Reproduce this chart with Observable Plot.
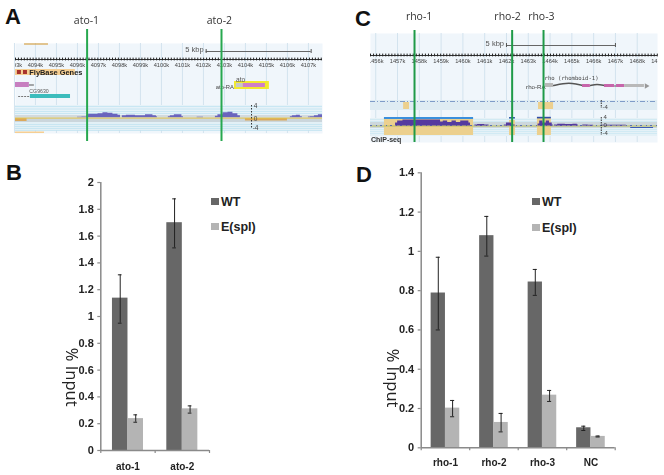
<!DOCTYPE html>
<html><head><meta charset="utf-8">
<script src="https://cdn.jsdelivr.net/npm/d3@7"></script>
<script src="https://cdn.jsdelivr.net/npm/@observablehq/plot@0.6"></script>
<style>
html,body{margin:0;padding:0;background:#fff}
#page{position:relative;width:664px;height:475px;overflow:hidden;font-family:"Liberation Sans",Arial,sans-serif}
.track{filter:blur(.45px)}
.bars{filter:blur(.3px)}
.letter{position:absolute;font-weight:700;font-size:22px;line-height:22px;color:#111}
.leg{position:absolute;font-weight:700;font-size:12.5px;line-height:14px;color:#222;white-space:nowrap}
.sw{position:absolute;width:8px;height:7px}
</style></head><body><div id="page"></div>
<script>
// ---- bar chart data
const groupsB=["ato-1","ato-2"];
const wtB=[1.137,1.70], wtBlo=[0.95,1.512], wtBhi=[1.311,1.878];
const spB=[0.238,0.311], spBlo=[0.211,0.279], spBhi=[0.266,0.333];
const ticksB=[0,0.2,0.4,0.6,0.8,1,1.2,1.4,1.6,1.8,2];
const groupsD=["rho-1","rho-2","rho-3","NC"];
const wtD=[0.788,1.08,0.844,0.102], wtDlo=[0.60,0.976,0.776,0.088], wtDhi=[0.97,1.178,0.908,0.11];
const spD=[0.202,0.129,0.268,0.058], spDlo=[0.158,0.081,0.236,0.055], spDhi=[0.241,0.175,0.292,0.06];
const ticksD=[0,0.2,0.4,0.6,0.8,1,1.2,1.4];
const seriesNames=["WT","E(spl)"], seriesColors=["#676767","#b4b4b4"];
// ---- genome browser data (kb positions, track rows)
const sigA=[
 [[4096.0,.5],[4096.43,.8],[4096.44,2],[4096.62,3.5],[4096.86,3.5],[4097.1,4],[4097.33,5],[4097.57,4.5],[4097.81,3.5],[4098.05,2.5]],
 [[4098.14,2],[4098.52,2.5],[4099.0,2],[4099.48,3],[4099.71,2],[4099.81,1]],
 [[4100.33,1],[4100.52,2],[4100.71,3],[4100.9,3],[4101.05,1]],
 [[4101.7,.6],[4102.0,.6]],
 [[4102.57,1.5],[4102.81,3],[4103.05,5],[4103.29,5.5],[4103.52,4],[4103.76,2]],
 [[4106.14,1],[4106.33,2],[4106.52,2.5],[4106.71,1]],
 [[4107.0,.7],[4107.19,1],[4107.38,2],[4107.57,3],[4107.67,3]]
];
const sigC=[
 [[1456.91,3],[1457.1,5],[1457.4,6],[1458.5,6],[1458.95,6],[1459.0,4],[1459.2,5],[1459.4,3.5],[1459.6,5],[1459.8,3.5],[1460.0,5],[1460.2,5],[1460.35,3]],
 [[1460.55,1],[1460.8,1.3],[1461.2,1]],
 [[1461.9,1],[1462.1,3],[1462.4,1]],
 [[1463.45,2],[1463.6,5],[1463.75,3],[1463.9,5],[1464.05,3],[1464.15,1]],
 [[1464.2,1],[1464.5,1.6],[1464.9,1.4],[1465.2,1.6],[1465.3,.8]],
 [[1465.5,.8],[1466,.6]],[[1466.4,.7],[1467.5,.7]]
];
const geneBoxesA=[
 {a:4093.05,b:4093.71,y1:82,y2:87,c:"#c77fc0"},{a:4093.76,b:4095.67,y1:94,y2:98,c:"#3cbcbc"},
 {a:4103.48,b:4105.14,y1:81,y2:89,c:"#f2ea2e"},{a:4103.57,b:4103.9,y1:83,y2:87,c:"#c8c8c8"},{a:4103.9,b:4104.95,y1:83,y2:87,c:"#cf7fc8"}
];
const geneBoxesC=[
 {a:1463.79,b:1464.16,y1:83,y2:87,c:"#b9b9b9"},{a:1465.49,b:1465.85,y1:84,y2:87,c:"#c765ab"},
 {a:1466.5,b:1466.96,y1:84,y2:87,c:"#c765ab"},{a:1467.05,b:1467.42,y1:84,y2:87,c:"#c765ab"},{a:1467.42,b:1468.33,y1:84,y2:87,c:"#b9b9b9"}
];
const bandsA=[{y1:105,y2:115,c:"#e6f2f8"},{y1:115,y2:118,c:"#d3dadd"},{y1:118,y2:122,c:"#cbd6dc"},{y1:122,y2:130,c:"#e2f0f6"}];
const bandsC=[{y1:100,y2:110,c:"#dfecf3"},{y1:118,y2:122,c:"#e6f1f6"},{y1:122,y2:128,c:"#ccd7dc"},{y1:128,y2:136,c:"#e4f1f7"}];
const hatchA=[106,108.5,111,113,124,126,128,130];
const hatchC=[119,121,129,131,133];
const oranges=[
 {a:1457.28,b:1457.55,y1:102,y2:109},{a:1463.47,b:1464.16,y1:102,y2:109},
 {a:1456.4,b:1460.49,y1:118,y2:135},{a:1462.14,b:1462.41,y1:120,y2:135},{a:1463.42,b:1464.06,y1:118,y2:135}
];
const blues=[{a:1456.4,b:1460.49,y1:117,y2:119,c:"#3a8fdc"},{a:1462.14,b:1462.41,y1:117,y2:118.6,c:"#2f5ea8"},{a:1463.42,b:1464.06,y1:116.8,y2:118.4,c:"#2f4ea8"}];
const axisPosA=[{y:105,t:"4"},{y:118,t:"0"},{y:127,t:"-4"}];
const axisPosC=[{y:117,t:"4"},{y:125,t:"0"},{y:133,t:"-4"},{y:106.5,t:"-4"}];
const page=document.getElementById("page");
const F='"Liberation Sans",Arial,sans-serif';

function segs(list){return list.flatMap((s,i)=>s.map(([kb,h])=>({kb,h,i})));}
function common(domain,first,last,rulerY,labelY,barStart,scaleY){
  const kbs=d3.range(first,last+1);
  return {kbs,marks:[
    Plot.frame({fill:"#f0f6fb",stroke:null}),
    Plot.ruleX(kbs,{stroke:"#d3e3ee",strokeWidth:1}),
    Plot.ruleY([rulerY],{stroke:"#333",strokeWidth:1.1}),
    Plot.ruleX(d3.range(domain[0],domain[1],0.14),{y1:rulerY-1.4,y2:rulerY+1.4,stroke:"#222",strokeWidth:1}),
    Plot.text(kbs,{x:d=>d,y:labelY,text:d=>d+"k",fontSize:5.7,fill:"#444",clip:true,fontFamily:F}),
    Plot.ruleY([scaleY],{x1:barStart,x2:barStart+5,stroke:"#666"}),
    Plot.ruleX([barStart,barStart+5],{y1:scaleY-2,y2:scaleY+2,stroke:"#555"}),
    Plot.text(["5 kbp"],{x:barStart,y:scaleY-1.5,dx:-2.5,textAnchor:"end",fontSize:7.5,fill:"#555",fontFamily:F})
  ]};
}
function boxes(list){return Plot.rect(list,{x1:"a",x2:"b",y1:"y1",y2:"y2",fill:"c"});}
function bands(list,dom){return Plot.rect(list,{x1:dom[0],x2:dom[1],y1:"y1",y2:"y2",fill:"c"});}

// ---- Panel A
(function(){
  const dom=[4093.05,4107.67];
  const c=common(dom,4093,4107,59,65,4102.13,51);
  const s=segs(sigA);
  const svg=Plot.plot({width:332,height:160,marginLeft:15,marginRight:10,marginTop:43,marginBottom:27,
    x:{domain:dom,axis:null},y:{domain:[43,133],reverse:true,axis:null},style:{background:"transparent"},
    marks:[...c.marks,
      Plot.rect([{a:4093.48,b:4094.62}],{x1:"a",x2:"b",y1:43.4,y2:44.6,fill:"#d6a24a"}),
      Plot.rect([{a:4093.05,b:4095.9}],{x1:"a",x2:"b",y1:69,y2:75,fill:"#f6cf93"}),
      Plot.rect([{a:4093.14,b:4093.33},{a:4093.43,b:4093.62}],{x1:"a",x2:"b",y1:70,y2:74,fill:"#a8322c"}),
      Plot.text(["FlyBase Genes"],{x:4093.71,y:72,textAnchor:"start",fontSize:7.4,fontWeight:600,fill:"#222",fontFamily:F}),
      bands(bandsA,dom),
      Plot.ruleY(hatchA,{stroke:"#c2e3f1",strokeWidth:.8}),
      Plot.ruleY([84.5],{x1:4093.71,x2:4093.95,stroke:"#555"}),
      Plot.ruleY([96],{x1:4093.2,x2:4093.76,stroke:"#777",strokeDasharray:"2 1"}),
      boxes(geneBoxesA),
      Plot.text(["CG9630"],{x:4093.71,y:91,textAnchor:"start",fontSize:5.2,fill:"#555",fontFamily:F}),
      Plot.text(["ato"],{x:4103.55,y:79,textAnchor:"start",fontSize:6.6,fill:"#555",fontFamily:F}),
      Plot.text(["ato-RA"],{x:4103.45,y:86.5,textAnchor:"end",fontSize:5.8,fill:"#444",fontFamily:F}),
      Plot.areaY(s,{x:"kb",y1:117.3,y2:d=>117.3-d.h,z:"i",fill:"#6a64bd",curve:"step"}),
      Plot.rect([{a:4104,b:4106}],{x1:"a",x2:"b",y1:118,y2:120.5,fill:"#dba95c"}),
      Plot.rect([{a:4093.05,b:4093.6}],{x1:"a",x2:"b",y1:118,y2:121,fill:"#dba95c"}),
      Plot.ruleY([117.6],{stroke:"#e4c64a",strokeWidth:1}),
      Plot.ruleX([4104.29],{y1:105,y2:128,stroke:"#333",strokeDasharray:"1.5 1.5"}),
      Plot.text(axisPosA,{x:4104.29,y:"y",text:"t",dx:4,fontSize:6.5,fill:"#444",fontFamily:F}),
      Plot.rect([{a:4093.05,b:4094.43}],{x1:"a",x2:"b",y1:131.5,y2:133,fill:"#f6cf93"}),
      Plot.ruleX([4096.46,4102.86],{y1:29,y2:141,stroke:"#27a84f",strokeWidth:2}),
      Plot.text(["ato-1","ato-2"],{x:[4096.43,4102.76],y:20,fontSize:10.5,fill:"#333",fontFamily:'"Open Sans",sans-serif'})
    ]});
  svg.style.cssText="left:0;top:0;position:absolute;overflow:visible";
  svg.classList.add("track");page.append(svg);
})();

// ---- Panel C
(function(){
  const dom=[1455.76,1468.93];
  const c=common(dom,1456,1468,55,61,1462,45);
  const s=segs(sigC);
  const svg=Plot.plot({width:332,height:160,marginLeft:38,marginRight:7,marginTop:33,marginBottom:18,
    x:{domain:dom,axis:null},y:{domain:[33,142],reverse:true,axis:null},style:{background:"transparent"},
    marks:[...c.marks,
      Plot.text(["14"],{frameAnchor:"right",y:61,textAnchor:"end",fontSize:5.7,fill:"#444",fontFamily:F}),
      bands(bandsC,dom),
      Plot.ruleY(hatchC,{stroke:"#c9e6f2",strokeWidth:.7}),
      Plot.rect(oranges,{x1:"a",x2:"b",y1:"y1",y2:"y2",fill:"#ecd08e"}),
      Plot.ruleY([101],{stroke:"#7f9cc8",strokeWidth:1,strokeDasharray:"5 2 1 2"}),
      Plot.ruleY([125.5],{stroke:"#b9bd5c",strokeWidth:1}),
      Plot.ruleY([125],{stroke:"#5a70b5",strokeWidth:1,strokeDasharray:"2 4 1 3"}),
      Plot.areaY(s,{x:"kb",y1:125.4,y2:d=>125.4-d.h,z:"i",fill:"#553a9f",curve:"step"}),
      Plot.rect(blues,{x1:"a",x2:"b",y1:"y1",y2:"y2",fill:"c"}),
      Plot.ruleY([127],{x1:1467.7,x2:1468.75,stroke:"#3b5bb5",strokeWidth:1}),
      Plot.line([{x:1464.16,y:85},{x:1464.6,y:83},{x:1465,y:82.5},{x:1465.49,y:85}],{x:"x",y:"y",stroke:"#555",curve:"basis"}),
      Plot.line([{x:1465.85,y:85},{x:1466.15,y:83.5},{x:1466.5,y:85}],{x:"x",y:"y",stroke:"#555",curve:"basis"}),
      Plot.ruleY([85.5],{x1:1466.96,x2:1467.05,stroke:"#555"}),
      boxes(geneBoxesC),
      Plot.dot([{x:1468.42,y:85.5}],{x:"x",y:"y",symbol:"triangle",r:2,fill:"#999",rotate:90}),
      Plot.text(["rho (rhomboid-1)"],{x:1463.75,y:78,textAnchor:"start",fontSize:5.6,fill:"#444",fontFamily:'"DejaVu Sans Mono",monospace'}),
      Plot.text(["rho-RA"],{x:1463.8,y:87,textAnchor:"end",fontSize:6.2,fill:"#444",fontFamily:F}),
      Plot.ruleX([1466.35],{y1:100,y2:108,stroke:"#333",strokeDasharray:"1.5 1"}),
      Plot.ruleX([1466.35],{y1:117,y2:135,stroke:"#333",strokeDasharray:"1.5 1"}),
      Plot.text(axisPosC,{x:1466.35,y:"y",text:"t",dx:4,fontSize:6,fill:"#444",fontFamily:F}),
      Plot.text(["ChIP-seq"],{x:1455.78,y:139,textAnchor:"start",fontSize:7,fontWeight:600,fill:"#333",fontFamily:F}),
      Plot.ruleX([1457.78,1462.26,1463.7],{y1:30,y2:142,stroke:"#1f9a48",strokeWidth:2}),
      Plot.text(["rho-1","rho-2","rho-3"],{x:[1457.99,1462.05,1463.6],y:16,fontSize:10.5,fill:"#333",fontFamily:'"Open Sans",sans-serif'})
    ]});
  svg.style.cssText="left:332px;top:0;position:absolute;overflow:visible";
  svg.classList.add("track");page.append(svg);
})();

// ---- Bar panels
function barPanel(o){
  const n=o.groups.length;
  const rows=o.groups.flatMap((g,i)=>[
    {i,s:0,v:o.wt[i],lo:o.wtLo[i],hi:o.wtHi[i]},
    {i,s:1,v:o.sp[i],lo:o.spLo[i],hi:o.spHi[i]}]);
  const b=o.barW;
  const cx=d=>d.i+0.5+(d.s?b/2:-b/2);
  const svg=Plot.plot({width:332,height:315,marginLeft:o.left,marginRight:332-o.right,marginTop:o.top,marginBottom:315-o.bottom,
    x:{domain:[0,n],axis:null},y:{domain:[0,o.max],axis:null},style:{background:"transparent"},
    marks:[
      Plot.rect(rows,{x1:d=>d.i+0.5-(d.s?0:b),x2:d=>d.i+0.5+(d.s?b:0),y1:0,y2:"v",fill:d=>seriesColors[d.s]}),
      Plot.ruleX(rows,{x:cx,y1:"lo",y2:"hi",stroke:"#222",strokeWidth:1}),
      Plot.ruleY(rows.flatMap(d=>[{...d,y:d.lo},{...d,y:d.hi}]),{x1:d=>cx(d)-o.cap,x2:d=>cx(d)+o.cap,y:"y",stroke:"#222",strokeWidth:1}),
      Plot.ruleX([0],{y1:0,y2:o.max,stroke:"#8a8a8a",strokeWidth:1.5}),
      Plot.ruleY([0],{stroke:"#8a8a8a",strokeWidth:1.5}),
      Plot.axisY({ticks:o.ticks,tickFormat:d=>String(d),tickSize:3,stroke:"#8a8a8a",strokeWidth:1.2,fontSize:11,fontWeight:700,fill:"#222",tickPadding:4,label:null,fontFamily:F}),
      Plot.axisX({ticks:d3.range(0,n+1),tickFormat:()=>"",tickSize:3,stroke:"#8a8a8a",strokeWidth:1.2,label:null}),
      Plot.axisX({ticks:o.groups.map((_,i)=>i+0.5),tickFormat:d=>o.groups[d-0.5],tickSize:0,tickPadding:o.xPad,fontSize:10,fontWeight:700,fill:"#222",label:null,fontFamily:F}),
      Plot.text(["% Input"],{frameAnchor:"left",textAnchor:"middle",dx:o.labelDx,y:o.labelY,rotate:90,fontSize:16.5,fill:"#222",fontFamily:'"Open Sans",sans-serif'})
    ]});
  svg.style.cssText=`left:${o.x}px;top:160px;position:absolute;overflow:visible;font-family:${F}`;
  svg.classList.add("bars");page.append(svg);
  seriesNames.forEach((name,i)=>{
    const sw=document.createElement("div");sw.className="sw bars";
    sw.style.cssText=`left:${o.legX}px;top:${o.legY[i]}px;background:${seriesColors[i]}`;page.append(sw);
    const t=document.createElement("div");t.className="leg";t.textContent=name;
    t.style.cssText=`left:${o.legX+10}px;top:${o.legY[i]-3.5}px`;page.append(t);
  });
}
barPanel({groups:groupsB,wt:wtB,wtLo:wtBlo,wtHi:wtBhi,sp:spB,spLo:spBlo,spHi:spBhi,ticks:ticksB,max:2,
  left:100.3,right:209,top:22,bottom:290,barW:0.2855,cap:0.034,labelDx:-29.6,labelY:0.547,xPad:12,x:0,legX:211,legY:[198,223]});
barPanel({groups:groupsD,wt:wtD,wtLo:wtDlo,wtHi:wtDhi,sp:spD,spLo:spDlo,spHi:spDhi,ticks:ticksD,max:1.4,
  left:88.7,right:282.7,top:12.3,bottom:287.3,barW:0.295,cap:0.042,labelDx:-28.7,labelY:0.355,xPad:11,x:332,legX:532,legY:[198,224]});

// ---- panel letters
[["A",5,6],["B",6,162],["C",355,8],["D",356,164]].forEach(([t,x,y])=>{
  const d=document.createElement("div");d.className="letter";d.textContent=t;
  d.style.left=x+"px";d.style.top=y+"px";page.append(d);
});
</script></body></html>
